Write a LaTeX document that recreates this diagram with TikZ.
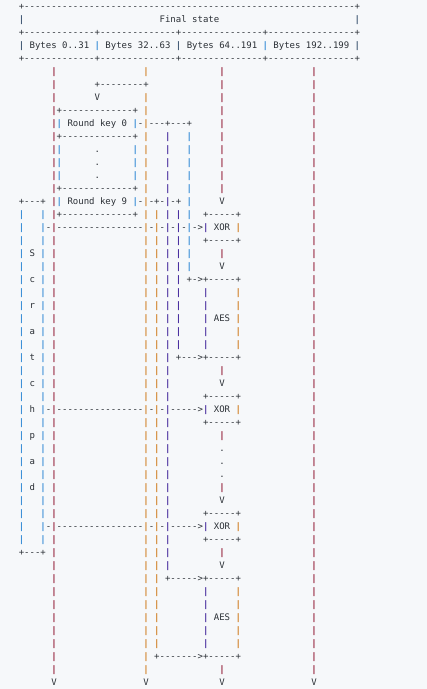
\documentclass[tikz,border=0pt]{standalone}
\usepackage{fontspec}
\setmonofont{DejaVu Sans Mono}
\definecolor{bgc}{HTML}{F6F8FA}
\definecolor{ink}{HTML}{2B3036}
\definecolor{cblue}{HTML}{358CD6}
\definecolor{cslate}{HTML}{3F5773}
\definecolor{cred}{HTML}{931C36}
\definecolor{corange}{HTML}{D07E22}
\definecolor{cpurple}{HTML}{44289C}
\ExplSyntaxOn
\cs_new:Npn \Rpt #1#2 { \prg_replicate:nn {#1} {#2} }
\ExplSyntaxOff
\def\vb{\textcolor{cblue}{\bfseries|}}
\def\vs{\textcolor{cslate}{\bfseries|}}
\def\vr{\textcolor{cred}{\bfseries|}}
\def\vo{\textcolor{corange}{\bfseries|}}
\def\vp{\textcolor{cpurple}{\bfseries|}}
\newcommand\seg[3]{\node[txt] (r#1c#2) at ({18.79+5.418*#2},{9+13*#1}) {#3};}
\begin{document}
\begin{tikzpicture}[x=1pt,y=-1pt,
  txt/.style={anchor=base west,inner sep=0pt,outer sep=0pt,
    font=\ttfamily\fontsize{9}{13}\selectfont,text=ink}]
\fill[bgc] (0,0) rectangle (427,689);
\useasboundingbox (0,0) rectangle (427,689);
% header
\seg{0}{0}{+\Rpt{61}{-}+}
\seg{1}{0}{\vs}
\seg{1}{26}{Final state}
\seg{1}{62}{\vs}
\seg{2}{0}{+\Rpt{13}{-}+\Rpt{14}{-}+\Rpt{15}{-}+\Rpt{16}{-}+}
\seg{3}{0}{\vs{} Bytes 0..31 \vb{} Bytes 32..63 \vs{} Bytes 64..191 \vb{} Bytes 192..199 \vs}
\seg{4}{0}{+\Rpt{13}{-}+\Rpt{14}{-}+\Rpt{15}{-}+\Rpt{16}{-}+}
% long verticals
\foreach \j in {5,...,51}{\seg{\j}{6}{\vr}\seg{\j}{54}{\vr}}
\seg{52}{6}{V}\seg{52}{54}{V}
\foreach \j in {5,7,8,...,51}{\seg{\j}{23}{\vo}}
\seg{52}{23}{V}
\foreach \j in {16,...,49}{\seg{\j}{25}{\vo}}
\foreach \j in {10,...,43}{\seg{\j}{27}{\vp}}
\foreach \j in {16,...,26}{\seg{\j}{29}{\vp}}
\foreach \j in {10,...,20}{\seg{\j}{31}{\vb}}
% column 37
\foreach \j in {5,...,14,19,28,33,37,42,51}{\seg{\j}{37}{\vr}}
\foreach \j in {15,20,29,38,43,52}{\seg{\j}{37}{V}}
\foreach \j in {34,35,36}{\seg{\j}{37}{.}}
% round keys
\seg{6}{14}{+\Rpt{8}{-}+}
\seg{7}{14}{V}
\foreach \j in {8,10,14,16}{\seg{\j}{7}{+\Rpt{13}{-}+}}
\foreach \j in {9,11,12,13,15}{\seg{\j}{7}{\vb}\seg{\j}{21}{\vb}}
\foreach \j in {11,12,13}{\seg{\j}{14}{.}}
\seg{9}{9}{Round key 0}
\seg{15}{9}{Round key 9}
\seg{9}{22}{-}
\seg{9}{24}{\Rpt{3}{-}+\Rpt{3}{-}+}
\seg{15}{22}{-}
\seg{15}{24}{-+-}
\seg{15}{28}{-+}
% scratchpad
\seg{15}{0}{+\Rpt{3}{-}+}
\seg{42}{0}{+\Rpt{3}{-}+}
\foreach \j in {16,...,41}{\seg{\j}{0}{\vb}\seg{\j}{4}{\vb}}
\seg{19}{2}{S}\seg{21}{2}{c}\seg{23}{2}{r}\seg{25}{2}{a}\seg{27}{2}{t}
\seg{29}{2}{c}\seg{31}{2}{h}\seg{33}{2}{p}\seg{35}{2}{a}\seg{37}{2}{d}
% XOR feeds
\seg{17}{5}{-}\seg{17}{7}{\Rpt{16}{-}}\seg{17}{24}{-}\seg{17}{26}{-}
\seg{17}{28}{-}\seg{17}{30}{-}\seg{17}{32}{->}
\foreach \j in {31,40}{\seg{\j}{5}{-}\seg{\j}{7}{\Rpt{16}{-}}\seg{\j}{24}{-}
  \seg{\j}{26}{-}\seg{\j}{28}{\Rpt{5}{-}>}}
% XOR boxes
\foreach \j in {16,18,30,32,39,41}{\seg{\j}{34}{+\Rpt{5}{-}+}}
\foreach \j in {17,31,40}{\seg{\j}{34}{\vp{} XOR \vo}}
% AES boxes
\seg{21}{31}{+->+\Rpt{5}{-}+}
\seg{27}{29}{+\Rpt{3}{-}>+\Rpt{5}{-}+}
\seg{44}{27}{+\Rpt{5}{-}>+\Rpt{5}{-}+}
\seg{50}{25}{+\Rpt{7}{-}>+\Rpt{5}{-}+}
\foreach \j in {22,...,26,45,46,...,49}{\seg{\j}{34}{\vp}\seg{\j}{40}{\vo}}
\seg{24}{36}{AES}
\seg{47}{36}{AES}
\end{tikzpicture}
\end{document}
